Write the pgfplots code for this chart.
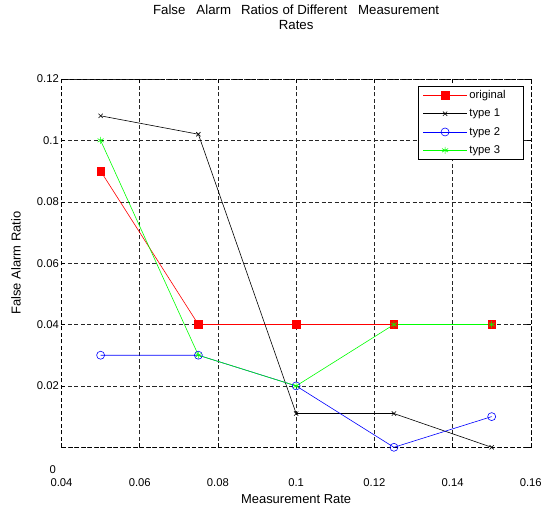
\documentclass[border=0pt]{standalone}
\usepackage{fontspec}
\setmainfont{Liberation Sans}
\usepackage{pgfplots}
\pgfplotsset{compat=1.18}
\definecolor{mred}{RGB}{255,0,0}
\definecolor{mgreen}{RGB}{0,255,0}
\definecolor{mblue}{RGB}{0,0,255}
\begin{document}
\begin{tikzpicture}
\useasboundingbox (-61.5bp,-58.7bp) rectangle (483.5bp,447.3bp);
\begin{axis}[
  at={(0,0)}, anchor=south west,
  scale only axis, width=469.3bp, height=368.3bp,
  xmin=0.04, xmax=0.16, ymin=0, ymax=0.12,
  clip=false,
  xtick={0.04,0.06,0.08,0.1,0.12,0.14,0.16},
  xticklabels={0.04,0.06,0.08,0.1,0.12,0.14,0.16},
  ytick={0,0.02,0.04,0.06,0.08,0.1,0.12},
  yticklabels={,0.02,0.04,0.06,0.08,0.1,0.12},
  /pgf/number format/assume math mode=true,
  grid=major,
  major grid style={black!85, dash pattern=on 4bp off 2.5bp, line width=0.5bp},
  axis line style={black, dash pattern=on 4bp off 2.5bp, line width=0.5bp},
  tick align=inside, major tick length=4bp,
  tick style={black, line width=0.5bp, solid},
  tick label style={font=\fontsize{11.3}{13}\selectfont},
  yticklabel style={inner sep=2.5bp},
  xticklabel style={yshift=-28bp},
  xlabel={Measurement Rate},
  xlabel style={at={(axis description cs:0.5,0)}, anchor=center, yshift=-51.7bp, font=\fontsize{13}{15}\selectfont},
  ylabel={False Alarm Ratio},
  every axis y label/.style={at={(axis description cs:0,0.5)}, rotate=90, anchor=center, yshift=45.5bp, font=\fontsize{13}{15}\selectfont},
  title={False\hspace{11bp}Alarm\hspace{10bp}Ratios\hspace{4bp}of Different\hspace{11bp}Measurement\\Rates},
  title style={at={(axis description cs:0.5,1)}, anchor=center, yshift=56bp, align=center, font=\fontsize{13.3}{15}\selectfont},
  legend style={at={(rel axis cs:1,1)}, anchor=north east, xshift=-7.8bp, yshift=-6.7bp,
    draw=black, line width=0.5bp, fill=white, font=\fontsize{11.3}{13}\selectfont,
    row sep=5bp, inner xsep=4bp, inner ysep=2.5bp, cells={anchor=west}},
  every axis plot/.append style={line width=0.6bp},
]
\addplot[color=mred, mark=square*, mark size=3.8bp, mark options={solid, fill=mred},
  legend image code/.code={\draw[draw=mred, line width=0.8bp] (0bp,0bp) -- (44bp,0bp);
    \draw[mred, fill=mred, mark=square*, mark size=3.8bp] plot coordinates {(22bp,0bp)};}]
  coordinates {(0.05,0.09) (0.075,0.04) (0.1,0.04) (0.125,0.04) (0.15,0.04)};
\addlegendentry{original\hspace*{11bp}}
\addplot[color=black, mark=x, mark size=3bp, mark options={solid},
  legend image code/.code={\draw[black, line width=0.6bp] (0bp,0bp) -- (44bp,0bp);
    \draw[black, mark=x, mark size=3bp] plot coordinates {(22bp,0bp)};}]
  coordinates {(0.05,0.108) (0.075,0.102) (0.1,0.011) (0.125,0.011) (0.15,0)};
\addlegendentry{type 1}
\addplot[color=mblue, mark=o, mark size=4bp, mark options={solid},
  legend image code/.code={\draw[draw=mblue, line width=0.8bp] (0bp,0bp) -- (44bp,0bp);
    \draw[mblue, mark=o, mark size=4bp] plot coordinates {(22bp,0bp)};}]
  coordinates {(0.05,0.03) (0.075,0.03) (0.1,0.02) (0.125,0) (0.15,0.01)};
\addlegendentry{type 2}
\addplot[color=mgreen, mark=asterisk, mark size=3.5bp, mark options={solid},
  legend image code/.code={\draw[mgreen, line width=0.6bp] (0bp,0bp) -- (44bp,0bp);
    \draw[mgreen, mark=asterisk, mark size=3.5bp] plot coordinates {(22bp,0bp)};}]
  coordinates {(0.05,0.1) (0.075,0.03) (0.1,0.02) (0.125,0.04) (0.15,0.04)};
\addlegendentry{type 3}
\node[font=\fontsize{11.3}{13}\selectfont] at (rel axis cs:0,0) [xshift=-8.8bp, yshift=-22.7bp] {0};
\end{axis}
\end{tikzpicture}
\end{document}
